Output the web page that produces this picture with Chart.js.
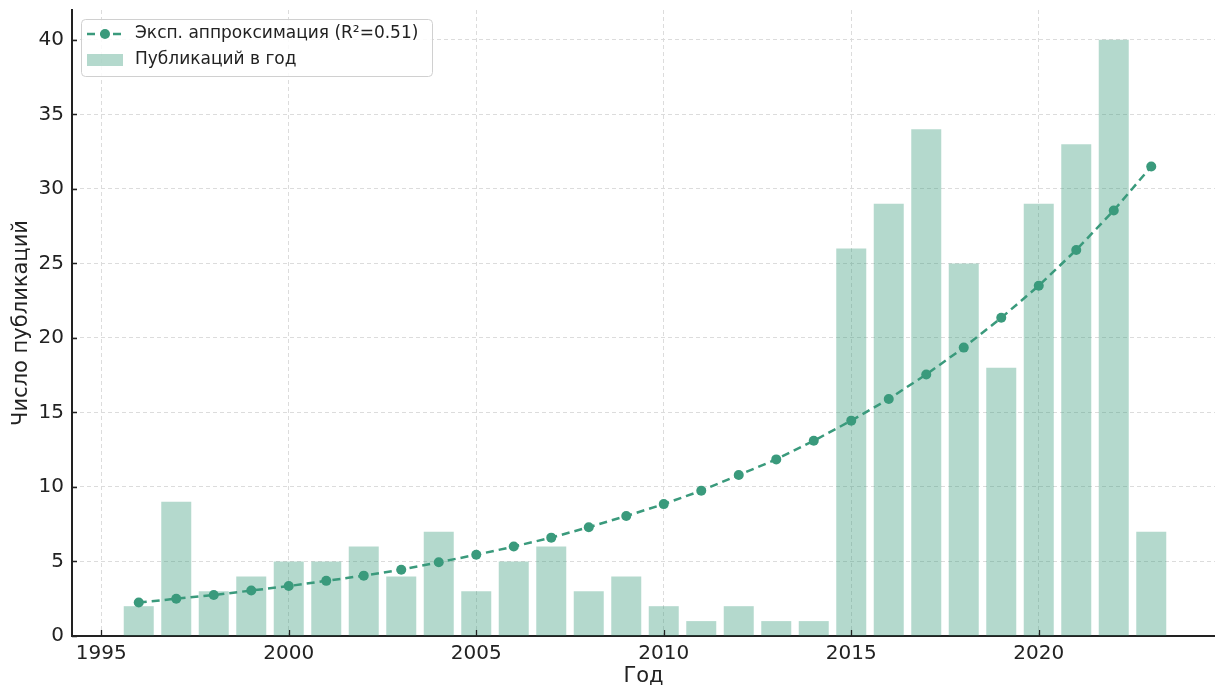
<!DOCTYPE html>
<html>
<head>
<meta charset="utf-8">
<script src="https://cdn.jsdelivr.net/npm/chart.js@4.4.1/dist/chart.umd.min.js"></script>
<style>
    html, body { margin: 0; padding: 0; background: #fff; }
    canvas { display: block; }
</style>
</head>
<body>
<canvas id="pubChart" width="1215" height="689"></canvas>
<script>
let years = [1996, 1997, 1998, 1999, 2000, 2001, 2002, 2003, 2004, 2005, 2006, 2007, 2008, 2009,
    2010, 2011, 2012, 2013, 2014, 2015, 2016, 2017, 2018, 2019, 2020, 2021, 2022, 2023];
let pubs = [2, 9, 3, 4, 5, 5, 6, 4, 7, 3, 5, 6, 3, 4,
    2, 1, 2, 1, 1, 26, 29, 34, 25, 18, 29, 33, 40, 7];
let fit = [2.25, 2.5, 2.75, 3.05, 3.35, 3.7, 4.05, 4.45, 4.95, 5.45, 6.0, 6.6, 7.3, 8.05,
    8.85, 9.75, 10.8, 11.85, 13.1, 14.45, 15.9, 17.55, 19.35, 21.35, 23.5, 25.9, 28.55, 31.5];
let xTicks = [1995, 2000, 2005, 2010, 2015, 2020];
let yTicks = [0, 5, 10, 15, 20, 25, 30, 35, 40];

let lineLabel = "Эксп. аппроксимация (R²=0.51)";
let barLabel = "Публикаций в год";

let green = "#3a9a7c";
let barFill = "rgba(58, 154, 124, 0.38)";
let ink = "#222222";
let font = "'DejaVu Sans', sans-serif";

// inward tick marks like matplotlib
let innerTicks = {
    id: "innerTicks",
    afterDatasetsDraw(chart) {
        let c = chart.ctx;
        let a = chart.chartArea;
        let sx = chart.scales.x;
        let sy = chart.scales.y;
        c.save();
        c.strokeStyle = ink;
        c.lineWidth = 1.3;
        c.beginPath();
        xTicks.forEach(v => {
            let px = Math.round(sx.getPixelForValue(v)) + 0.5;
            c.moveTo(px, a.bottom);
            c.lineTo(px, a.bottom - 6);
        });
        yTicks.forEach(v => {
            let py = Math.round(sy.getPixelForValue(v)) + 0.5;
            c.moveTo(a.left, py);
            c.lineTo(a.left + 5, py);
        });
        c.stroke();
        c.restore();
    }
};

// legend box in the upper left corner
let legendBox = {
    id: "legendBox",
    afterDraw(chart) {
        let c = chart.ctx;
        c.save();
        let x0 = 81, y0 = 19, w = 351, h = 57;
        c.beginPath();
        c.roundRect(x0 + 0.5, y0 + 0.5, w, h, 4);
        c.fillStyle = "rgba(255,255,255,0.85)";
        c.fill();
        c.strokeStyle = "#d0d0d0";
        c.lineWidth = 1;
        c.stroke();

        // line sample
        c.strokeStyle = green;
        c.lineWidth = 2.5;
        c.setLineDash([8, 5]);
        c.beginPath();
        c.moveTo(87, 34);
        c.lineTo(123, 34);
        c.stroke();
        c.setLineDash([]);
        c.fillStyle = green;
        c.beginPath();
        c.arc(105, 34, 5, 0, Math.PI * 2);
        c.fill();

        // bar sample
        c.fillStyle = barFill;
        c.fillRect(87, 54, 36, 12);

        c.fillStyle = ink;
        c.font = "17px " + font;
        c.textBaseline = "middle";
        c.fillText(lineLabel, 135, 34);
        c.fillText(barLabel, 135, 60);
        c.restore();
    }
};

let ctx = document.getElementById("pubChart").getContext("2d");

let chart = new Chart(ctx, {
    data: {
        datasets: [{
            type: "line",
            label: lineLabel,
            data: years.map((y, i) => ({ x: y, y: fit[i] })),
            borderColor: green,
            backgroundColor: green,
            borderWidth: 2.5,
            borderDash: [8, 5],
            pointRadius: 5,
            pointBorderWidth: 0,
            pointBackgroundColor: green,
            tension: 0,
            clip: false,
            order: 0
        }, {
            type: "bar",
            label: barLabel,
            data: years.map((y, i) => ({ x: y, y: pubs[i] })),
            backgroundColor: barFill,
            borderWidth: 0,
            barPercentage: 0.8,
            categoryPercentage: 1.0,
            order: 1
        }]
    },
    options: {
        responsive: false,
        animation: false,
        devicePixelRatio: 1,
        layout: { autoPadding: false, padding: { left: 0, top: 10, right: 0, bottom: 0 } },
        plugins: {
            legend: { display: false },
            tooltip: { enabled: false }
        },
        scales: {
            x: {
                type: "linear",
                min: 1994.22,
                max: 2024.7,
                offset: false,
                grid: { color: "#dcdcdc", lineWidth: 1, drawTicks: false, offset: false },
                border: { color: ink, width: 2, dash: [4, 3] },
                ticks: {
                    stepSize: 5,
                    includeBounds: false,
                    padding: 6,
                    color: ink,
                    font: { family: font, size: 20 },
                    callback: v => String(v)
                },
                title: {
                    display: true,
                    text: "Год",
                    color: ink,
                    font: { family: font, size: 21 },
                    padding: { top: 0, bottom: 0 }
                },
                afterFit: s => {
                    s.height = 53;
                    s.paddingLeft = 0;
                    s.paddingRight = 0;
                }
            },
            y: {
                min: 0,
                max: 42,
                grid: { color: "#dcdcdc", lineWidth: 1, drawTicks: false },
                border: { color: ink, width: 2, dash: [4, 3] },
                ticks: {
                    stepSize: 5,
                    includeBounds: false,
                    padding: 8,
                    color: ink,
                    font: { family: font, size: 20 }
                },
                title: {
                    display: true,
                    text: "Число публикаций",
                    color: ink,
                    font: { family: font, size: 21 },
                    padding: { top: 9, bottom: 0 }
                },
                afterFit: s => {
                    s.width = 72;
                    s.paddingTop = 0;
                    s.paddingBottom = 0;
                }
            }
        }
    },
    plugins: [innerTicks, legendBox]
});
</script>
</body>
</html>
